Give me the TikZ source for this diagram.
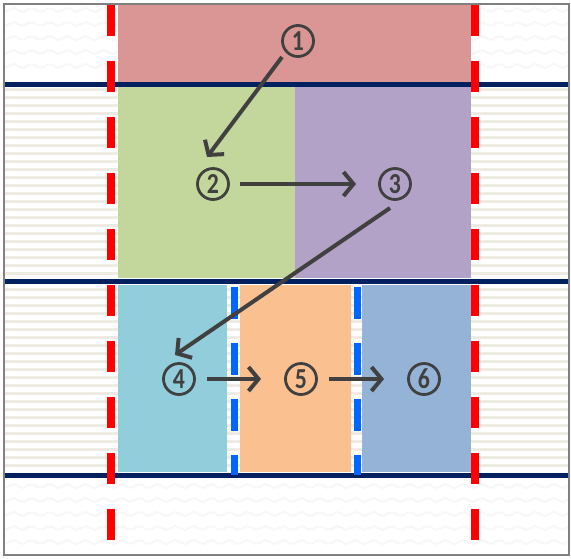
\documentclass[tikz,border=0pt]{standalone}
\usepackage{fontspec}
\newfontfamily\numfont[FakeStretch=0.82]{Carlito Bold}
\usetikzlibrary{arrows.meta}

\definecolor{ink}{RGB}{64,64,64}
\definecolor{navy}{RGB}{0,32,96}
\definecolor{stripe}{RGB}{238,236,226}
\definecolor{boxred}{RGB}{217,150,148}
\definecolor{boxgreen}{RGB}{195,214,155}
\definecolor{boxpurple}{RGB}{178,162,199}
\definecolor{boxcyan}{RGB}{146,205,220}
\definecolor{boxorange}{RGB}{250,192,144}
\definecolor{boxblue}{RGB}{149,179,215}
\definecolor{dashred}{RGB}{255,0,0}
\definecolor{dashblue}{RGB}{0,102,255}

\tikzset{
  region/.style={fill=#1, draw=none},
  band/.style={draw=navy, line width=5.5pt},
  reddash/.style={draw=dashred, line width=8pt, dash pattern=on 31pt off 25pt},
  bluedash/.style={draw=dashblue, line width=7pt, dash pattern=on 32pt off 24pt},
  num/.style={circle, draw=ink, line width=2.8pt, minimum size=31pt, inner sep=0pt,
              text=ink, font=\numfont\fontsize{29}{29}\selectfont},
  flow/.style={draw=ink, line width=4pt, -{Straight Barb[length=10pt,width=24pt]}},
  wave/.style={draw=black!3, line width=2pt}
}

\begin{document}
\begin{tikzpicture}[x=1pt,y=-1pt]
\useasboundingbox (0,0) rectangle (571,558);

% paper background
\fill[white] (4,4) rectangle (569,555);
% faint wavy texture above and below the lanes
\foreach \yy in {10,24,...,76} {
  \draw[wave] plot[domain=5:568, samples=120] (\x, {\yy + 2*sin(\x*20)});
}
\foreach \yy in {486,500,...,548} {
  \draw[wave] plot[domain=5:568, samples=120] (\x, {\yy + 2*sin(\x*20)});
}
% striped lanes
\foreach \yy in {88,96,...,470} {
  \fill[stripe] (5,\yy) rectangle (568,\yy+3);
}

% coloured blocks
\fill[region=boxred]    (118,4)   rectangle (471,84);
\fill[region=boxgreen]  (118,87)  rectangle (295,278);
\fill[region=boxpurple] (295,87)  rectangle (471,278);
\fill[region=boxcyan]   (118,285) rectangle (227,472);
\fill[region=boxorange] (240,285) rectangle (351,472);
\fill[region=boxblue]   (362,285) rectangle (471,472);

% horizontal lane boundaries
\draw[band] (4,84.5) -- (569,84.5);
\draw[band] (4,281.5) -- (569,281.5);
\draw[band] (4,475.5) -- (569,475.5);

% vertical boundaries
\draw[reddash] (111,5) -- (111,545);
\draw[reddash] (475,5) -- (475,545);
\draw[bluedash] (234.5,287) -- (234.5,475);
\draw[bluedash] (357,287) -- (357,475);

% frame
\draw[draw=black!50, line width=1.5pt] (4,4) rectangle (569,555);

% steps
\node[num] (s1) at (298,41)  {1};
\node[num] (s2) at (213,184) {2};
\node[num] (s3) at (395,184) {3};
\node[num] (s4) at (179,379) {4};
\node[num] (s5) at (301,379) {5};
\node[num] (s6) at (424,379) {6};

% arrow end points
\coordinate (a1s) at (282,57);
\coordinate (a1e) at (207,157);
\coordinate (a3s) at (390,208);
\coordinate (a3e) at (175,355);

\draw[flow] (a1s) -- (a1e);
\draw[flow] ([xshift=10pt]s2.east) -- ([xshift=-22pt]s3.west);
\draw[flow] (a3s) -- (a3e);
\draw[flow] ([xshift=11pt]s4.east) -- ([xshift=-23pt]s5.west);
\draw[flow] ([xshift=11pt]s5.east) -- ([xshift=-23pt]s6.west);
\end{tikzpicture}
\end{document}
